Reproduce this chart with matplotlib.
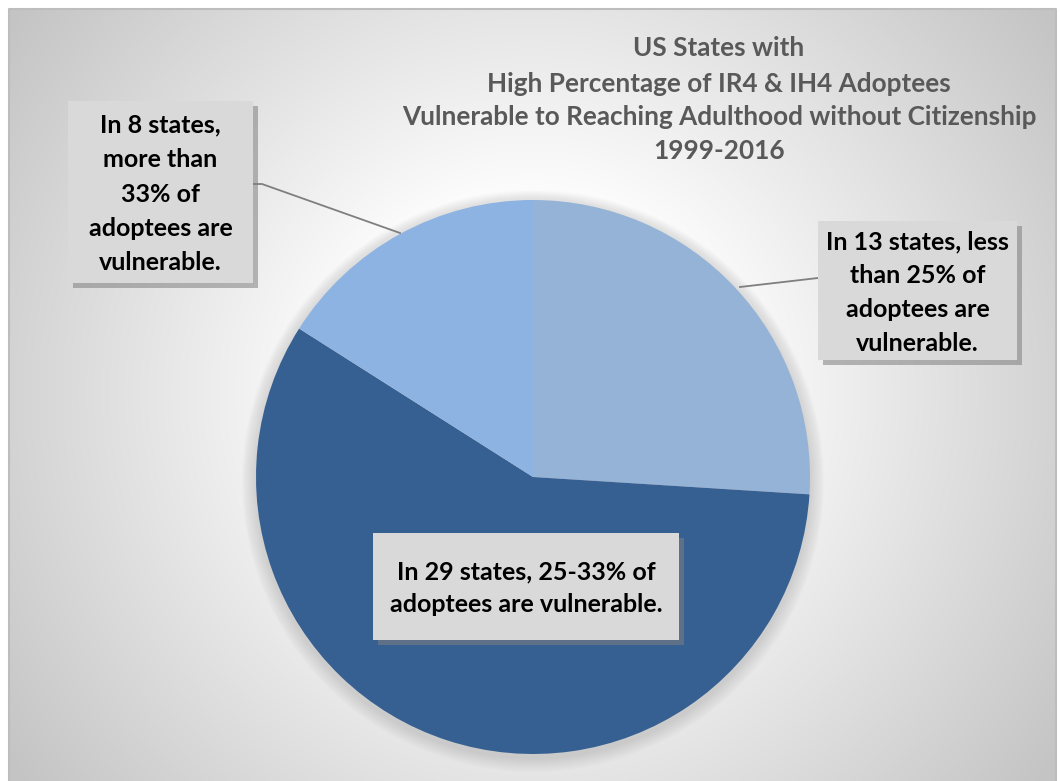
import numpy as np
import matplotlib.pyplot as plt
from matplotlib.patches import Rectangle, Circle

# data
slice_labels = ["In 13 states, less\nthan 25% of\nadoptees are\nvulnerable.",
                "In 29 states, 25-33% of\nadoptees are vulnerable.",
                "In 8 states,\nmore than\n33% of\nadoptees are\nvulnerable."]
state_counts = [13, 29, 8]
slice_colors = ["#95B3D7", "#376092", "#8DB3E2"]
title_lines = ["US States with",
               "High Percentage of IR4 & IH4 Adoptees",
               "Vulnerable to Reaching Adulthood without Citizenship",
               "1999-2016"]

W, H = 1060, 781
fig = plt.figure(figsize=(W / 100, H / 100), dpi=100)
fig.patch.set_facecolor("white")
ax = fig.add_axes([0, 0, 1, 1])

# chart area background: radial grey gradient
x0, x1, y0, y1 = 9, 1056, 0, 772
gx, gy = np.meshgrid(np.linspace(x0, x1, 500), np.linspace(y1, y0, 380))
d = np.hypot(gx - 532, gy - (H - 393))
shade = np.clip(1.0 - 0.0005 * (d - 180), 0.77, 1.0)
ax.imshow(np.dstack([shade] * 3), extent=(x0, x1, y0, y1), zorder=0, interpolation="bilinear")
ax.plot([x0, x0, x1, x1], [y0, y1, y1, y0], color="#bdbdbd", lw=1.5, zorder=1)

# pie shadow
cx, cy, rad = 533, 304, 277
for k in range(14, 0, -1):
    ax.add_patch(Circle((cx, cy - 4), rad + k, color="#808080", alpha=0.02, lw=0, zorder=2))

wedges, _ = ax.pie(state_counts, colors=slice_colors, startangle=90, counterclock=False,
                   center=(cx, cy), radius=rad, frame=True,
                   wedgeprops=dict(linewidth=0, zorder=3))
ax.set_xlim(0, W)
ax.set_ylim(0, H)
ax.set_aspect("equal")
ax.axis("off")

font = ["Lato", "DejaVu Sans"]

# title
ty = [H - 48, H - 84, H - 117, H - 151]
for line, yy in zip(title_lines, ty):
    ax.text(719, yy, line, ha="center", va="center", fontsize=18.8, fontweight="bold",
            color="#595959", family=font, zorder=6)

# label boxes (x, y_top, w, h, line spacing) in pixel layout
boxes = [(818, 221, 199, 139, 1.58), (373, 533, 306, 107, 1.5), (68, 101, 185, 182, 1.6)]
for (bx, by, bw, bh, ls), txt in zip(boxes, slice_labels):
    yb = H - by - bh
    ax.add_patch(Rectangle((bx + 5, yb - 5), bw, bh, color="#7f7f7f", alpha=0.55, lw=0, zorder=4))
    ax.add_patch(Rectangle((bx, yb), bw, bh, color="#D9D9D9", lw=0, zorder=5))
    ax.text(bx + bw / 2, yb + bh / 2 - 2, txt, ha="center", va="center", fontsize=18,
            fontweight="bold", color="black", family=font, linespacing=ls, zorder=6)

# leader lines
ax.plot([818, 740], [H - 278, H - 287], color="#7f7f7f", lw=1.3, zorder=4)
ax.plot([253, 262, 400], [H - 184, H - 184, H - 233], color="#7f7f7f", lw=1.3, zorder=4)

fig.savefig("out.png", dpi=100)
